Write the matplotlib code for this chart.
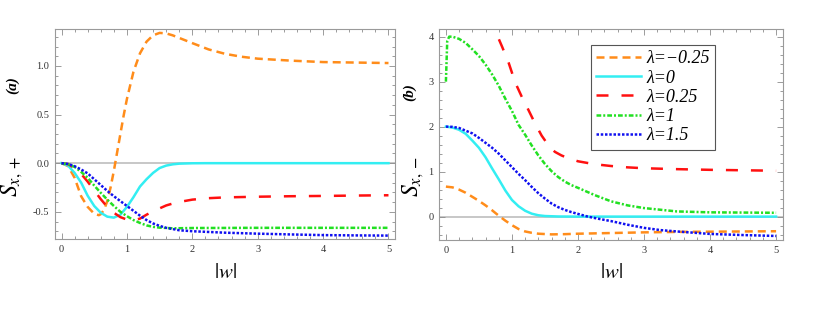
import matplotlib
matplotlib.use("Agg")
import matplotlib.pyplot as plt
from matplotlib.ticker import MultipleLocator, FormatStrFormatter

plt.rcParams["font.family"] = "Liberation Serif"
plt.rcParams["mathtext.fontset"] = "stix"

# --- panel (a): S_{x,+} ---
wa_m025 = [0, 0.1, 0.2, 0.3, 0.4, 0.5, 0.57, 0.6, 0.65, 0.7, 0.75, 0.8, 0.85, 0.9, 0.95,
           1.0, 1.1, 1.2, 1.3, 1.4, 1.5, 1.6, 1.7, 1.85, 2.0, 2.25, 2.5, 2.75, 3.0,
           3.5, 4.0, 4.5, 5.0]
sa_m025 = [0, -0.03, -0.15, -0.34, -0.45, -0.52, -0.535, -0.525, -0.48, -0.39, -0.25,
           -0.08, 0.11, 0.30, 0.49, 0.66, 0.94, 1.13, 1.25, 1.315, 1.34, 1.335, 1.315,
           1.275, 1.235, 1.17, 1.125, 1.095, 1.075, 1.055, 1.04, 1.035, 1.03]

wa_0 = [0, 0.1, 0.2, 0.3, 0.4, 0.5, 0.6, 0.7, 0.8, 0.9, 1.0, 1.1, 1.2, 1.3, 1.4,
        1.5, 1.6, 1.7, 1.8, 2.0, 2.2, 5.0]
sa_0 = [0, -0.025, -0.10, -0.20, -0.335, -0.44, -0.51, -0.55, -0.56, -0.53, -0.45,
        -0.35, -0.24, -0.165, -0.10, -0.05, -0.025, -0.012, -0.005, -0.001, 0, 0]

wa_025 = [0, 0.1, 0.2, 0.3, 0.4, 0.5, 0.6, 0.7, 0.8, 0.9, 1.0, 1.1, 1.2, 1.3, 1.4,
          1.5, 1.6, 1.75, 2.0, 2.25, 2.5, 3.0, 3.5, 4.0, 4.5, 5.0]
sa_025 = [0, -0.01, -0.05, -0.11, -0.19, -0.28, -0.37, -0.45, -0.51, -0.555, -0.58,
          -0.59, -0.57, -0.53, -0.495, -0.465, -0.435, -0.405, -0.375, -0.36, -0.352,
          -0.345, -0.34, -0.337, -0.333, -0.33]

wa_1 = [0, 0.1, 0.2, 0.3, 0.4, 0.5, 0.6, 0.7, 0.8, 0.9, 1.0, 1.1, 1.2, 1.3, 1.4,
        1.5, 1.7, 2.0, 3.0, 5.0]
sa_1 = [0, -0.01, -0.038, -0.09, -0.15, -0.23, -0.305, -0.375, -0.44, -0.50, -0.545,
        -0.585, -0.615, -0.64, -0.655, -0.663, -0.67, -0.667, -0.665, -0.665]

wa_15 = [0, 0.1, 0.2, 0.3, 0.4, 0.5, 0.6, 0.7, 0.8, 0.9, 1.0, 1.1, 1.2, 1.3, 1.4,
         1.5, 1.6, 1.8, 2.0, 2.5, 3.0, 3.5, 4.0, 4.5, 5.0]
sa_15 = [0, -0.008, -0.031, -0.065, -0.105, -0.165, -0.225, -0.285, -0.34, -0.39,
         -0.44, -0.49, -0.54, -0.585, -0.62, -0.645, -0.665, -0.69, -0.70, -0.715,
         -0.725, -0.733, -0.74, -0.743, -0.745]

# --- panel (b): S_{x,-} ---
wb_m025 = [0, 0.1, 0.2, 0.3, 0.4, 0.5, 0.6, 0.7, 0.8, 0.9, 1.0, 1.1, 1.2, 1.3, 1.4,
           1.6, 1.8, 2.0, 2.5, 3.0, 3.5, 4.0, 4.5, 5.0]
sb_m025 = [0.667, 0.65, 0.60, 0.53, 0.44, 0.35, 0.25, 0.14, 0.02, -0.09, -0.19,
           -0.275, -0.33, -0.36, -0.38, -0.395, -0.39, -0.38, -0.365, -0.35, -0.34,
           -0.335, -0.33, -0.325]

wb_0 = [0, 0.1, 0.2, 0.3, 0.4, 0.5, 0.6, 0.7, 0.8, 0.9, 1.0, 1.1, 1.2, 1.3, 1.4,
        1.5, 1.7, 2.0, 5.0]
sb_0 = [2.0, 1.98, 1.93, 1.84, 1.69, 1.53, 1.32, 1.07, 0.83, 0.58, 0.37, 0.23, 0.13,
        0.065, 0.03, 0.013, 0.003, 0, 0]

wb_025 = [0.65, 0.75, 0.85, 0.95, 1.05, 1.15, 1.25, 1.35, 1.45, 1.55, 1.65, 1.75,
          1.85, 2.0, 2.25, 2.5, 2.75, 3.0, 3.5, 4.0, 4.5, 5.0]
sb_025 = [4.45, 4.12, 3.78, 3.42, 2.98, 2.66, 2.37, 2.07, 1.80, 1.59, 1.44, 1.36,
          1.30, 1.23, 1.165, 1.125, 1.095, 1.075, 1.055, 1.04, 1.03, 1.02]

wb_1 = [0, 0.02, 0.05, 0.1, 0.2, 0.3, 0.4, 0.5, 0.6, 0.7, 0.8, 0.9, 1.0, 1.1, 1.2,
        1.3, 1.4, 1.5, 1.6, 1.7, 1.8, 1.9, 2.0, 2.25, 2.5, 2.75, 3.0, 3.5, 4.0, 4.5, 5.0]
sb_1 = [3.0, 3.9, 4.0, 4.0, 3.95, 3.86, 3.72, 3.57, 3.38, 3.16, 2.91, 2.62, 2.35,
        2.04, 1.82, 1.58, 1.36, 1.17, 1.01, 0.88, 0.78, 0.70, 0.64, 0.48, 0.34, 0.25,
        0.19, 0.115, 0.095, 0.09, 0.085]

wb_15 = [0, 0.1, 0.2, 0.3, 0.4, 0.5, 0.6, 0.7, 0.8, 0.9, 1.0, 1.1, 1.2, 1.3, 1.4,
         1.5, 1.6, 1.7, 1.8, 1.9, 2.0, 2.15, 2.3, 2.5, 2.75, 3.0, 3.25, 3.5, 4.0, 4.5, 5.0]
sb_15 = [2.0, 1.995, 1.97, 1.91, 1.85, 1.75, 1.64, 1.53, 1.40, 1.25, 1.10, 0.95, 0.81,
         0.66, 0.52, 0.40, 0.29, 0.21, 0.15, 0.10, 0.06, 0.0, -0.045, -0.10, -0.18,
         -0.25, -0.30, -0.33, -0.385, -0.41, -0.43]

labels = ["λ=−0.25", "λ=0", "λ=0.25", "λ=1", "λ=1.5"]
colors = ["#ff8c1a", "#33eef2", "#ff1010", "#22e022", "#1010f0"]
dashes = [(3.2, 2.0), None, (4.8, 5.2), (1.9, 0.8, 0.8, 0.8), (1.0, 0.7)]

fig = plt.figure(figsize=(8.17, 3.13), dpi=100)
ax_a = fig.add_axes([0.0673, 0.2364, 0.4162, 0.6709])
ax_b = fig.add_axes([0.5377, 0.2332, 0.4203, 0.6741])

curves_a = [(wa_m025, sa_m025), (wa_0, sa_0), (wa_025, sa_025), (wa_1, sa_1), (wa_15, sa_15)]
curves_b = [(wb_m025, sb_m025), (wb_0, sb_0), (wb_025, sb_025), (wb_1, sb_1), (wb_15, sb_15)]

for ax, curves in [(ax_a, curves_a), (ax_b, curves_b)]:
    ax.axhline(0, color="#bdbdbd", lw=1.2, zorder=1)
    for (w, s), lab, c, d in zip(curves, labels, colors, dashes):
        line, = ax.plot(w, s, color=c, lw=1.8, label=lab, zorder=2)
        if d is not None:
            line.set_dashes(d)
    ax.set_xlim(-0.1, 5.1)
    ax.xaxis.set_major_locator(MultipleLocator(1))
    ax.xaxis.set_minor_locator(MultipleLocator(0.2))
    ax.tick_params(which="both", direction="in", top=True, right=True,
                   color="#8c8c8c", width=0.6, labelcolor="#333333", labelsize=7.5, pad=4)
    ax.tick_params(which="major", length=4)
    ax.tick_params(which="minor", length=2)
    for sp in ax.spines.values():
        sp.set_color("#9a9a9a")
        sp.set_linewidth(0.8)

ax_a.set_ylim(-0.78, 1.38)
ax_a.yaxis.set_major_locator(MultipleLocator(0.5))
ax_a.yaxis.set_minor_locator(MultipleLocator(0.1))
ax_a.yaxis.set_major_formatter(FormatStrFormatter("%.1f"))

ax_b.set_ylim(-0.52, 4.17)
ax_b.yaxis.set_major_locator(MultipleLocator(1))
ax_b.yaxis.set_minor_locator(MultipleLocator(0.2))

leg = ax_b.legend(loc="upper left", bbox_to_anchor=(0.442, 0.924), borderaxespad=0,
                  prop={"family": "Liberation Serif", "style": "italic", "size": 13},
                  handlelength=2.45, handletextpad=0.3, labelspacing=0.12,
                  borderpad=0.3, fancybox=False, framealpha=1, edgecolor="#555555")
leg.get_frame().set_linewidth(0.8)

# axis titles
for xc in [225 / 817, 611 / 817]:
    fig.text(xc, 1 - 273 / 313, r"$|w|$", ha="center", va="center", fontsize=15)

fig.text(13 / 817, 1 - 85 / 313, "(a)", rotation=90, ha="center", va="center",
         fontsize=11, fontweight="bold", fontstyle="italic")
fig.text(12 / 817, 1 - 197 / 313, r"$S_{x,+}$", rotation=90, ha="center", va="bottom",
         fontsize=17)
fig.text(410 / 817, 1 - 92 / 313, "(b)", rotation=90, ha="center", va="center",
         fontsize=11, fontweight="bold", fontstyle="italic")
fig.text(413 / 817, 1 - 197 / 313, r"$S_{x,-}$", rotation=90, ha="center", va="bottom",
         fontsize=17)

fig.savefig("out.png", dpi=100)
